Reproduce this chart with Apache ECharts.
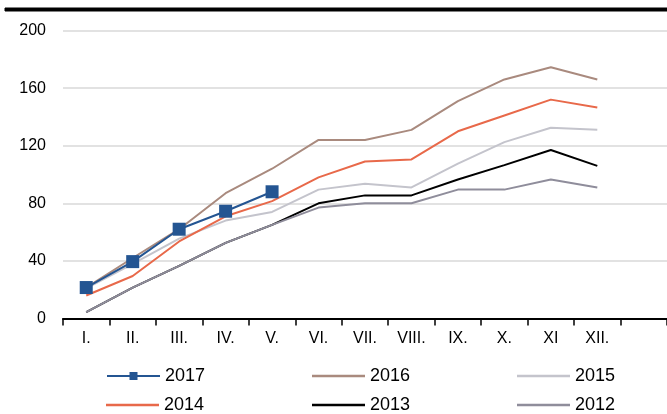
<!DOCTYPE html>
<html>
<head>
<meta charset="utf-8">
<script src="https://cdn.jsdelivr.net/npm/echarts@6/dist/echarts.min.js"></script>
<style>
  html, body { margin: 0; padding: 0; background: #fff; }
  #main { width: 667px; height: 414px; }
</style>
</head>
<body>
<div id="main"></div>
<script>
// months (13th slot is empty, axis runs on past XII.)
const months = ['I.', 'II.', 'III.', 'IV.', 'V.', 'VI.', 'VII.', 'VIII.', 'IX.', 'X.', 'XI', 'XII.', '']
const yTicks = { min: 0, max: 200, step: 40 }

const y2017 = [21.5, 39.5, 62, 74.5, 88]
const y2016 = [21.5, 42, 62, 87, 104, 124, 124, 131, 151, 166, 174.5, 166]
const y2015 = [21, 38, 55.5, 68, 74, 89.5, 93.5, 91, 107.5, 122.5, 132.5, 131]
const y2014 = [16, 29.5, 53.5, 71, 81.5, 98, 109, 110.5, 130, 141, 152, 146.5]
const y2013 = [4.5, 21.5, 36.5, 52.5, 65, 80, 85.5, 85.5, 96.5, 106.5, 117, 106]
const y2012 = [4.5, 21.5, 36.5, 52.5, 65, 77, 80, 80, 89.5, 89.5, 96.5, 91]

const font = "'Liberation Sans', Arial, sans-serif"

const colors = {
  '2017': '#245592',
  '2016': '#a98a7e',
  '2015': '#c4c4cc',
  '2014': '#e8694a',
  '2013': '#000000',
  '2012': '#8f8d9b'
}

const lineSeries = (name, data) => ({
  name: name,
  type: 'line',
  data: data,
  symbol: 'none',
  z: 2,
  lineStyle: { color: colors[name], width: 2 },
  itemStyle: { color: colors[name] }
})

// one legend per entry so the columns sit where they are in the picture
const legendAt = (name, left, top, withMarker) => ({
  data: withMarker ? [name] : [{ name: name, icon: 'rect' }],
  left: left,
  top: top,
  padding: 0,
  itemWidth: 53,
  itemHeight: withMarker ? 10 : 2.5,
  itemGap: 0,
  textStyle: { fontSize: 18, fontFamily: font, color: '#000', lineHeight: 18 }
})

const chart = echarts.init(document.getElementById('main'))
const option = {
  animation: false,
  grid: { left: 63, right: -4, top: 30.5, bottom: 95.5 },
  graphic: [
    {
      type: 'rect',
      z: 100,
      silent: true,
      shape: { x: 5, y: 8, width: 662, height: 3 },
      style: { fill: '#000', stroke: '#000', lineWidth: 1 }
    }
  ],
  legend: [
    legendAt('2017', 106, 367, true),
    legendAt('2016', 312, 367),
    legendAt('2015', 517, 367),
    legendAt('2014', 106, 396),
    legendAt('2013', 312, 396),
    legendAt('2012', 517, 396)
  ],
  xAxis: {
    type: 'category',
    data: months,
    boundaryGap: true,
    axisLine: { lineStyle: { color: '#000', width: 2 } },
    axisTick: { show: true, length: 7, interval: 0, lineStyle: { color: '#000', width: 1.5 } },
    axisLabel: { interval: 0, fontSize: 16, fontFamily: font, color: '#000', margin: 12 }
  },
  yAxis: {
    type: 'value',
    min: yTicks.min,
    max: yTicks.max,
    interval: yTicks.step,
    axisLine: { show: false },
    axisTick: { show: false },
    axisLabel: { fontSize: 16, fontFamily: font, color: '#000', margin: 17 },
    splitLine: { lineStyle: { color: '#d9d9d9', width: 1.5 } }
  },
  series: [
    lineSeries('2016', y2016),
    lineSeries('2015', y2015),
    lineSeries('2014', y2014),
    lineSeries('2013', y2013),
    lineSeries('2012', y2012),
    {
      name: '2017',
      type: 'line',
      data: y2017,
      symbol: 'rect',
      symbolSize: 13,
      z: 5,
      lineStyle: { color: colors['2017'], width: 2 },
      itemStyle: { color: colors['2017'] }
    }
  ]
}
chart.setOption(option)
</script>
</body>
</html>
